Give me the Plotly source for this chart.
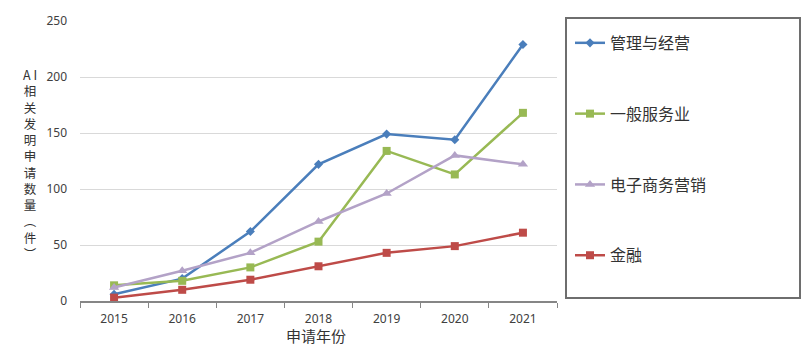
import plotly.graph_objects as go

years = ["2015", "2016", "2017", "2018", "2019", "2020", "2021"]
mgmt = [6, 20, 62, 122, 149, 144, 229]
service = [14, 18, 30, 53, 134, 113, 168]
ecom = [12, 27, 43, 71, 96, 130, 122]
finance = [3, 10, 19, 31, 43, 49, 61]

names = ["管理与经营", "一般服务业", "电子商务营销", "金融"]
colors = ["#4a7ebb", "#98b954", "#b3a2c7", "#be4b48"]
symbols = ["diamond", "square", "triangle-up", "square"]
sizes = [7, 8, 9, 8]
series = [mgmt, service, ecom, finance]

W, H = 812, 354
L, R, T, B = 80, 557, 17, 301  # plot area in pixels

fig = go.Figure()
for i, (n, c, s, sz, v) in enumerate(zip(names, colors, symbols, sizes, series)):
    fig.add_trace(go.Scatter(
        x=years, y=v, name=n, mode="lines+markers",
        line=dict(color=c, width=2.5),
        marker=dict(symbol=s, size=sz, color=c),
        legendgroup=f"g{i}",
    ))

def px_x(p):
    return (p - L) / (R - L)

def px_y(p):
    return 1 - (p - T) / (B - T)

# vertical y-axis title
chars = ["A I", "相", "关", "发", "明", "申", "请", "数", "量", "︵", "件", "︶"]
fig.add_annotation(text="<br>".join(chars), x=px_x(30), y=px_y(162), xref="paper", yref="paper",
                   showarrow=False, xanchor="center", yanchor="middle",
                   font=dict(size=12.5, color="#333333", family="Noto Sans CJK SC"))

fig.add_annotation(text="申请年份", x=px_x(316), y=px_y(336), xref="paper", yref="paper",
                   showarrow=False, xanchor="center", yanchor="middle",
                   font=dict(size=15, color="#333333", family="Noto Sans CJK SC"))

# legend box
fig.add_shape(type="rect", xref="paper", yref="paper",
              x0=px_x(566), x1=px_x(800), y0=px_y(298), y1=px_y(14),
              line=dict(color="#6e6e6e", width=2), fillcolor="rgba(0,0,0,0)")

fig.update_layout(
    width=W, height=H,
    margin=dict(l=L, r=W - R, t=T, b=H - B, pad=0),
    paper_bgcolor="white", plot_bgcolor="white",
    showlegend=True,
    legend=dict(x=px_x(570), y=px_y(22), xanchor="left", yanchor="top",
                font=dict(size=16, color="#333333", family="Noto Sans CJK SC"),
                tracegroupgap=47, itemwidth=30, bgcolor="rgba(0,0,0,0)"),
    xaxis=dict(type="category", range=[-0.5, 6.5], showgrid=False,
               showline=True, linecolor="#868686", linewidth=1.5,
               ticks="outside", tickson="boundaries", ticklen=5, tickcolor="#868686",
               tickfont=dict(size=12, color="#404040", family="Noto Sans"),
               ticklabelstandoff=6, zeroline=False),
    yaxis=dict(range=[0, 250], dtick=50, showgrid=True, gridcolor="#d9d9d9", gridwidth=1,
               showline=False, zeroline=False, ticks="",
               tickfont=dict(size=12, color="#404040", family="Noto Sans"),
               ticklabelstandoff=12),
)

fig.write_html("out.html")
